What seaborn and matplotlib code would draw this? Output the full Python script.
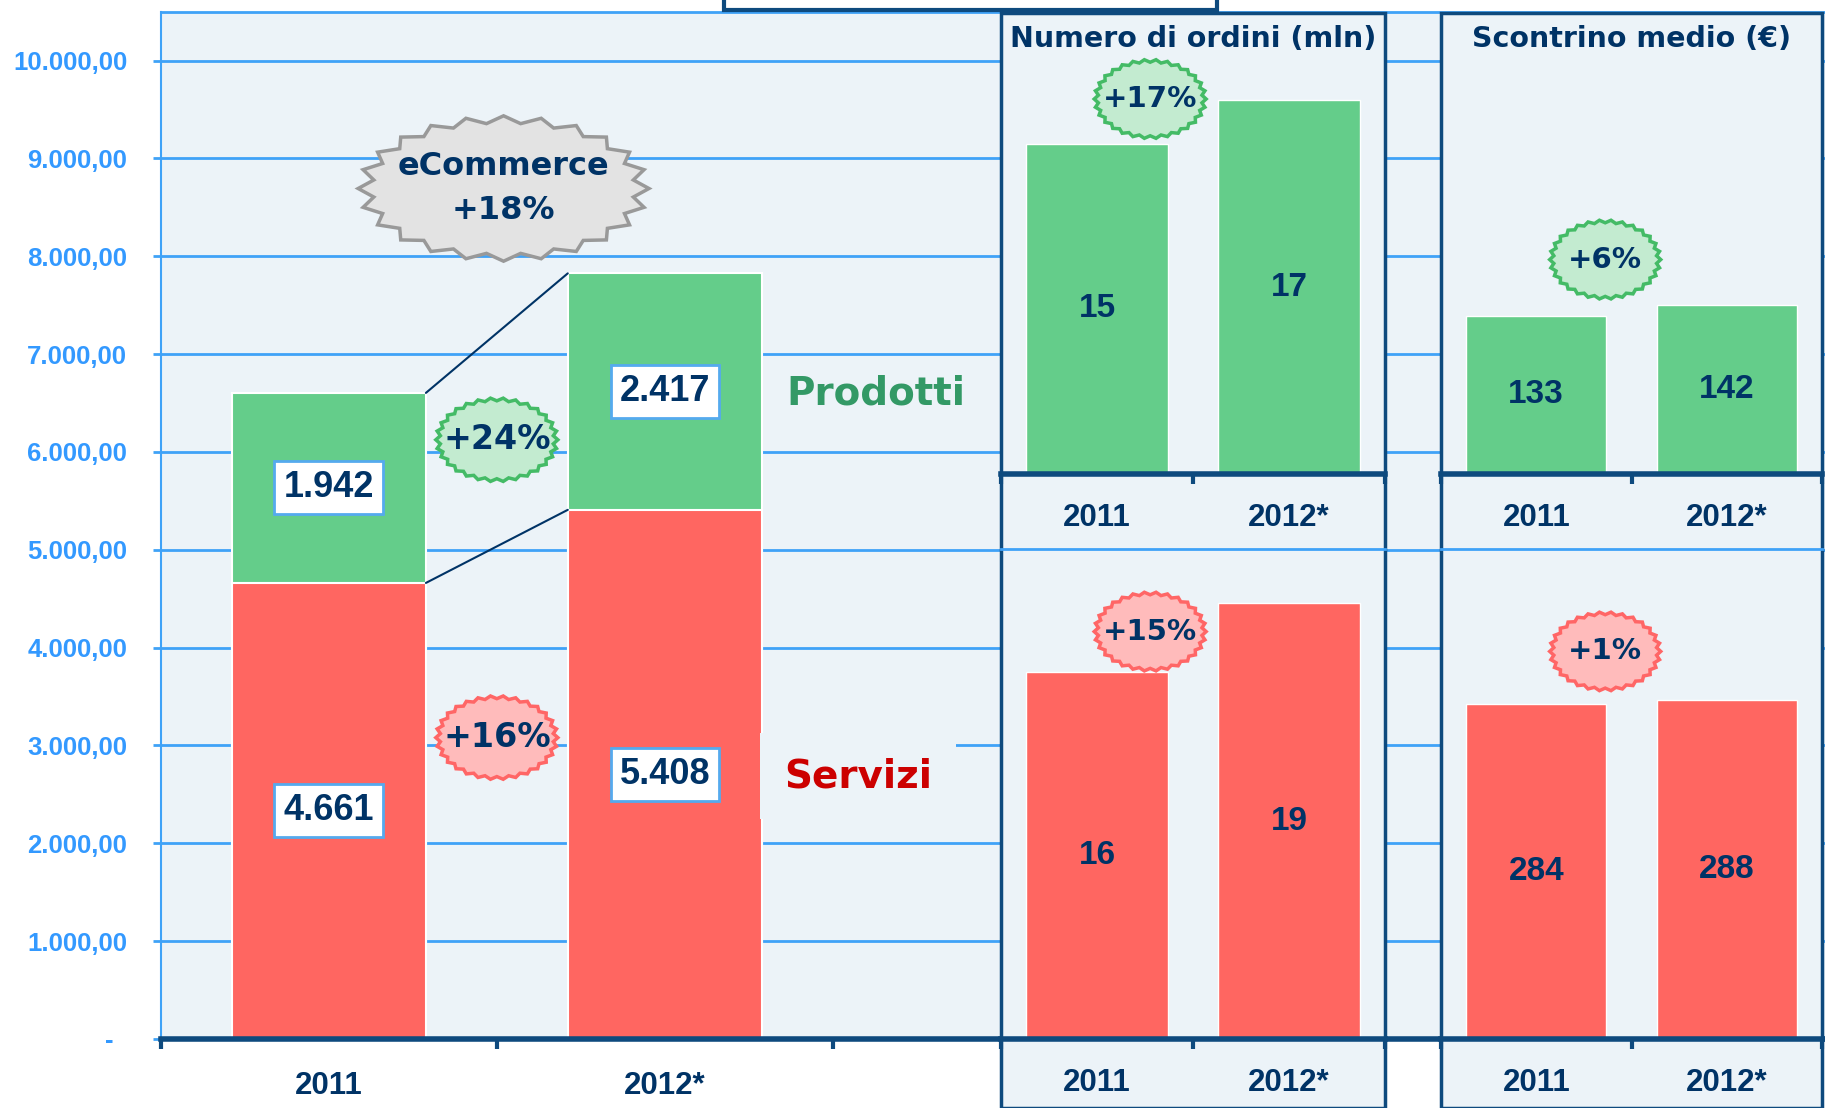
import numpy as np
import matplotlib
matplotlib.use("Agg")
import matplotlib.pyplot as plt
from matplotlib.patches import Polygon, Rectangle
import seaborn as sns

# ------------------------------------------------------------------ #
# data
anni = ["2011", "2012*"]
servizi = [4661, 5408]
prodotti = [1942, 2417]
crescita_ecommerce = "+18%"
crescita_prodotti = "+24%"
crescita_servizi = "+16%"

ordini_prodotti = [15, 17]
ordini_servizi = [16, 19]
crescita_ordini = ["+17%", "+15%"]

scontrino_prodotti = [133, 142]
scontrino_servizi = [284, 288]
crescita_scontrino = ["+6%", "+1%"]

y_ticks = list(range(0, 10001, 1000))

# ------------------------------------------------------------------ #
# colours / fonts
BG = "#ECF3F8"
GRID = "#3FA2F7"
TICK_BLUE = "#3399FF"
NAVY = "#003366"
BORDER = "#0E4A7E"
GREEN = "#64CD8A"
RED = "#FF6661"
NARROW = ["Liberation Sans Narrow", "Liberation Sans", "DejaVu Sans"]
ARIAL = ["Liberation Sans", "DejaVu Sans"]
VERD = ["DejaVu Sans"]

sns.set_theme(style="white")
plt.rcParams["font.family"] = ["DejaVu Sans"]

W, H = 1825, 1108
fig = plt.figure(figsize=(W / 100, H / 100), dpi=100)
fig.patch.set_facecolor("white")


def fbox(x0, y0, x1, y1):
    # pixel box (top-down) -> figure fraction rect
    return [x0 / W, 1 - y1 / H, (x1 - x0) / W, (y1 - y0) / H]


def burst(ax, cx, cy, w, h, n, depth, fc, ec, lw, z=5):
    t = np.linspace(0, 2 * np.pi, 2 * n, endpoint=False)
    r = np.where(np.arange(2 * n) % 2 == 0, 1.0, 1 - depth)
    pts = np.column_stack([cx + w / 2 * r * np.cos(t), cy + h / 2 * r * np.sin(t)])
    ax.add_patch(Polygon(pts, closed=True, fc=fc, ec=ec, lw=lw, zorder=z,
                         clip_on=False, joinstyle="miter"))


# ------------------------------------------------------------------ #
# main chart
ax = fig.add_axes(fbox(160.6, 11.6, W, 1039))
ax.set_zorder(0)
ax.set_facecolor(BG)
totali = [s + p for s, p in zip(servizi, prodotti)]
bw = 0.578
sns.barplot(x=anni, y=totali, color=GREEN, saturation=1, width=bw,
            edgecolor="white", linewidth=1.5, ax=ax, zorder=2)
sns.barplot(x=anni, y=servizi, color=RED, saturation=1, width=bw,
            edgecolor="white", linewidth=1.5, ax=ax, zorder=2)
ax.set_xlim(-0.5, 4.45)
ax.set_ylim(0, 10500)
ax.set_xlabel("")
ax.set_ylabel("")

ax.set_yticks(y_ticks)
ylabels = ["-  " if v == 0 else f"{v:,.2f}".replace(",", "#").replace(".", ",").replace("#", ".")
           for v in y_ticks]
ax.set_yticklabels(ylabels, fontsize=18.5, fontweight="bold", color=TICK_BLUE, family=NARROW)
ax.tick_params(axis="y", length=6, width=2, color=GRID, pad=18, left=True)
ax.yaxis.grid(True, color=GRID, lw=2)
ax.set_axisbelow(True)

ax.set_xticks([-0.5, 0.5, 1.5, 2.5, 3.5])
ax.set_xticklabels([])
ax.set_xticks([0, 1], anni, minor=True)
ax.tick_params(axis="x", which="major", length=7, width=3, color=BORDER, bottom=True)
ax.tick_params(axis="x", which="minor", length=0, pad=23)
for lab in ax.get_xticklabels(minor=True):
    lab.set_fontsize(22.5)
    lab.set_fontweight("bold")
    lab.set_color(NAVY)
    lab.set_family(NARROW)

ax.spines["right"].set_visible(False)
ax.spines["left"].set_color(GRID)
ax.spines["left"].set_linewidth(1.5)
ax.spines["top"].set_color(GRID)
ax.spines["top"].set_linewidth(2)
ax.spines["bottom"].set_color(BORDER)
ax.spines["bottom"].set_linewidth(4)

# connectors
ax.plot([bw / 2, 1 - bw / 2], [totali[0], totali[1]], color=NAVY, lw=1.5, zorder=3)
ax.plot([bw / 2, 1 - bw / 2], [servizi[0], servizi[1]], color=NAVY, lw=1.5, zorder=3)

# value boxes
box = dict(boxstyle="square,pad=0.25", fc="white", ec="#55AAEE", lw=2)
for i in range(2):
    ax.text(i, servizi[i] / 2, f"{servizi[i]:,}".replace(",", "."), ha="center", va="center",
            fontsize=26, fontweight="bold", color=NAVY, family=ARIAL, bbox=box, zorder=4)
    ax.text(i, servizi[i] + prodotti[i] / 2, f"{prodotti[i]:,}".replace(",", "."), ha="center",
            va="center", fontsize=26, fontweight="bold", color=NAVY, family=ARIAL, bbox=box, zorder=4)

ax.text(1.628, 6600, "Prodotti", ha="center", va="center", fontsize=28, fontweight="bold",
        color="#339966", family=VERD, zorder=4)
ax.text(1.575, 2687, "Servizi", ha="center", va="center", fontsize=28, fontweight="bold",
        color="#CC0000", family=VERD, zorder=4,
        bbox=dict(boxstyle="square,pad=0.62", fc=BG, ec="none"))

# bursts on main chart
burst(ax, 0.52, 8692, 0.865, 1486, 24, 0.1, "#E3E3E3", "#999999", 2.5)
ax.text(0.52, 8692, "eCommerce\n" + crescita_ecommerce, ha="center", va="center", fontsize=23,
        fontweight="bold", color=NAVY, family=VERD, linespacing=1.55, zorder=6)
burst(ax, 0.5, 6124, 0.363, 856, 30, 0.07, "#C3EBD0", "#44BB66", 2.5)
ax.text(0.5, 6124, crescita_prodotti, ha="center", va="center", fontsize=24,
        fontweight="bold", color=NAVY, family=VERD, zorder=6)
burst(ax, 0.5, 3080, 0.363, 856, 30, 0.07, "#FFBBBB", "#FF6666", 2.5)
ax.text(0.5, 3080, crescita_servizi, ha="center", va="center", fontsize=24,
        fontweight="bold", color=NAVY, family=VERD, zorder=6)

# top white box (cut title frame)
fig.add_artist(Rectangle((724 / W, 1 - 9.5 / H), (1217 - 724) / W, 0.05,
                         transform=fig.transFigure, fc="white", ec=BORDER, lw=3, zorder=1))

# ------------------------------------------------------------------ #
# side panels
panels = [
    (1001, 1385, "Numero di ordini (mln)", ordini_prodotti, ordini_servizi, crescita_ordini,
     21.04, 21.35, (0.277, 17.06, 3.6), (0.277, 17.77, 3.45)),
    (1441, 1822, "Scontrino medio (€)", scontrino_prodotti, scontrino_servizi, crescita_scontrino,
     390, 415.5, (0.362, 180.7, 66.8), (0.362, 329, 67)),
]

for x0, x1, titolo, top_vals, low_vals, growth, ytop, ylow, btop, blow in panels:
    fig.add_artist(Rectangle((x0 / W, 0), (x1 - x0) / W, 1 - 13 / H, transform=fig.transFigure,
                             fc=BG, ec=BORDER, lw=2.5, zorder=1))
    for k, (yy0, yy1, vals, col, ymax, b) in enumerate([
            (11.6, 473.7, top_vals, GREEN, ytop, btop),
            (549.5, 1039, low_vals, RED, ylow, blow)]):
        pax = fig.add_axes(fbox(x0, yy0, x1, yy1))
        pax.set_zorder(2)
        pax.patch.set_alpha(0)
        sns.barplot(x=anni, y=vals, color=col, saturation=1, width=0.735,
                    edgecolor="white", linewidth=1, ax=pax)
        pax.set_xlim(-0.5, 1.5)
        pax.set_ylim(0, ymax)
        pax.set_xlabel("")
        pax.set_ylabel("")
        pax.set_yticks([])
        pax.set_xticks([-0.5, 0.5, 1.5])
        pax.set_xticklabels([])
        pax.set_xticks([0, 1], anni, minor=True)
        pax.tick_params(axis="x", which="major", length=7, width=3, color=BORDER, bottom=True)
        pax.tick_params(axis="x", which="minor", length=0, pad=21)
        for lab in pax.get_xticklabels(minor=True):
            lab.set_fontsize(22.5)
            lab.set_fontweight("bold")
            lab.set_color(NAVY)
            lab.set_family(NARROW)
        for s in ["left", "right"]:
            pax.spines[s].set_visible(False)
        pax.spines["bottom"].set_color(BORDER)
        pax.spines["bottom"].set_linewidth(4)
        if k == 0:
            pax.spines["top"].set_visible(False)
            pax.text(0.5, 0.94, titolo, transform=pax.transAxes, ha="center", va="center",
                     fontsize=20.5, fontweight="bold", color=NAVY, family=VERD)
        else:
            pax.spines["top"].set_color(GRID)
            pax.spines["top"].set_linewidth(2)
        for i, v in enumerate(vals):
            pax.text(i, v / 2, str(v), ha="center", va="center", fontsize=24,
                     fontweight="bold", color=NAVY, family=NARROW)
        fc, ec = ("#C3EBD0", "#44BB66") if k == 0 else ("#FFBBBB", "#FF6666")
        burst(pax, b[0], b[1], 0.583, b[2], 30, 0.07, fc, ec, 2.5)
        pax.text(b[0], b[1], growth[k], ha="center", va="center", fontsize=21,
                 fontweight="bold", color=NAVY, family=VERD, zorder=6)

fig.savefig("out.png", dpi=100, facecolor="white")
